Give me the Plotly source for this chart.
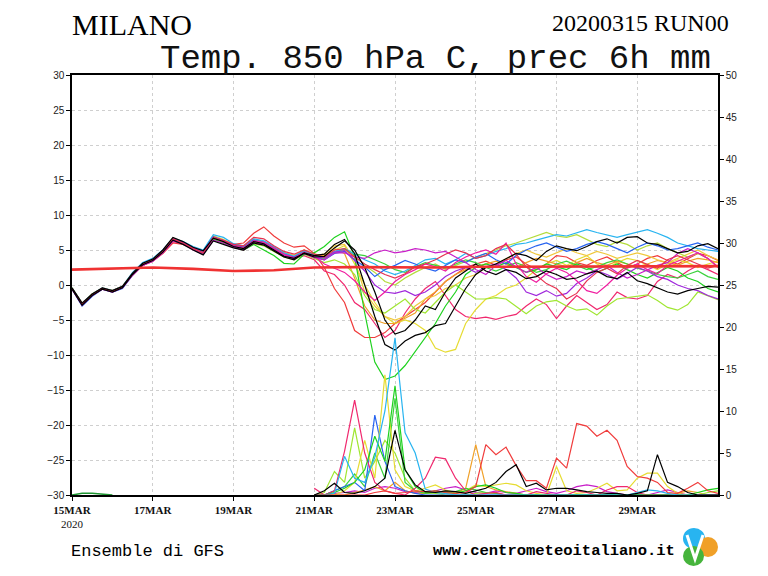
import plotly.graph_objects as go

# ---------------- DATA ----------------
# time axis: 6-hourly steps from 15MAR2020 00Z (days since start)
n_steps = 65
time_days = [i * 0.25 for i in range(n_steps)]
tick_days = [0, 2, 4, 6, 8, 10, 12, 14]
tick_labels = ["<b>15MAR</b><br>2020", "<b>17MAR</b>", "<b>19MAR</b>", "<b>21MAR</b>",
               "<b>23MAR</b>", "<b>25MAR</b>", "<b>27MAR</b>", "<b>29MAR</b>"]

# 850 hPa temperature of ensemble members (C), 4 values per day, 15MAR..30MAR + 31MAR00
t_black1 = [-0.6,-2.9,-1.5,-0.6, -1.0,-0.4,1.5,2.9, 3.5,4.7,6.4,5.8, 5.0,4.3,6.3,5.8,
            5.3,5.0,6.0,5.7, 4.9,4.0,3.6,4.6, 4.2,4.4,5.8,6.5, 4.5,0.0,-4.5,-8.5,
            -9.3,-8.0,-7.2,-6.8, -5.8,-5.5,-3.0,-0.5, 1.5,2.5,3.0,3.8, 4.5,4.2,3.5,4.8,
            5.6,5.2,4.9,5.5, 6.2,6.6,6.0,6.8, 6.9,6.0,5.8,5.2, 4.6,4.8,5.6,5.9, 5.2]
t_black2 = [-0.4,-2.6,-1.3,-0.4, -0.8,-0.2,1.7,3.1, 3.7,5.0,6.8,6.2, 5.4,4.9,6.7,6.2,
            5.5,5.2,6.2,5.9, 5.0,4.1,3.8,4.5, 4.0,4.1,5.3,6.3, 5.0,2.5,-1.0,-5.0,
            -7.0,-6.5,-5.0,-3.0, -3.5,-1.0,1.0,2.0, 3.0,2.0,1.5,2.2, 1.8,0.9,1.2,2.0,
            1.5,0.8,1.0,1.6, 2.0,1.2,0.9,1.8, 0.6,0.2,-0.4,-1.0, -1.3,-0.8,-0.5,-0.2, -0.3]
t_green = [-0.5,-2.8,-1.4,-0.5, -0.9,-0.3,1.6,3.0, 3.6,4.9,6.5,6.0, 5.1,4.5,6.5,5.9,
           5.4,5.0,5.8,5.0, 4.2,3.1,3.0,4.4, 4.6,5.5,6.8,7.6, 4.0,-4.0,-11.0,-13.5,
           -13.0,-11.5,-9.5,-7.5, -5.5,-3.0,-1.0,1.5, 2.5,3.0,2.6,3.2, 2.5,1.8,2.2,3.0,
           2.6,2.2,3.0,2.5, 1.8,2.4,3.0,2.2, 1.5,1.0,1.8,2.5, 2.0,1.0,0.5,-0.5, -1.0]
t_red = [-0.5,-2.6,-1.3,-0.5, -0.8,-0.2,1.5,2.8, 3.4,4.5,6.0,5.8, 5.2,4.8,6.6,6.3,
         5.8,6.0,7.4,8.3, 7.0,6.0,5.4,5.6, 4.5,2.5,-0.5,-2.5, -6.5,-7.5,-7.5,-6.8,
         -5.5,-4.5,-3.5,-2.5, -1.0,0.5,1.5,2.5, 3.0,3.4,2.8,3.6, 4.0,3.0,2.2,3.0,
         4.2,4.0,3.2,2.8, 3.5,4.0,3.2,2.5, 3.0,3.8,4.2,3.5, 3.0,3.8,4.5,4.2, 3.5]
t_crimson = [-0.5,-2.7,-1.4,-0.6, -0.9,-0.4,1.4,2.8, 3.4,4.6,6.2,5.9, 5.2,4.7,6.8,6.2,
             5.6,5.2,6.1,5.8, 5.1,4.3,3.8,4.2, 3.6,2.0,1.5,0.0, -2.5,-3.5,-5.5,-7.5,
             -6.5,-4.0,-2.0,-0.5, 0.5,-1.5,-3.5,-4.5, -4.8,-4.6,-4.9,-4.5, -4.2,-3.0,-2.0,-2.8,
             -4.8,-3.0,-1.5,-2.5, -3.5,-2.8,-1.0,-1.8, -2.0,-1.5,0.5,1.5, 1.0,2.0,2.8,2.2, 1.5]
t_yellow = [-0.4,-2.6,-1.3,-0.5, -0.9,-0.3,1.7,3.1, 3.7,4.9,6.7,6.1, 5.3,4.7,7.0,6.5,
            5.7,5.4,6.5,6.1, 5.4,4.6,4.2,4.9, 4.3,4.0,5.0,5.6, 3.0,0.0,-2.5,-4.5,
            -5.5,-5.0,-5.5,-6.5, -9.0,-9.6,-9.2,-5.5, -3.5,-2.0,-1.5,-0.5, 0.0,1.0,2.2,3.0,
            3.5,2.8,3.6,4.2, 3.0,2.4,3.2,3.8, 3.5,2.8,2.2,3.0, 3.6,3.2,2.5,3.0, 3.4]
t_magenta = [-0.6,-2.9,-1.5,-0.6, -1.0,-0.4,1.4,2.8, 3.4,4.6,6.3,5.9, 5.0,4.4,6.4,6.0,
             5.4,5.0,6.0,5.8, 5.0,4.2,3.7,4.5, 3.9,3.6,4.6,4.6, 4.0,3.8,4.6,5.0,
             4.6,4.8,5.2,5.0, 4.6,4.8,4.0,3.2, 2.2,1.5,2.8,3.5, 2.6,1.8,2.5,1.5,
             0.8,1.2,2.0,1.6, 2.2,2.8,1.8,1.0, 1.5,2.2,2.8,3.2, 4.5,5.2,4.6,3.8, 2.5]
t_purple = [-0.5,-2.8,-1.4,-0.5, -0.9,-0.3,1.6,3.0, 3.6,4.8,6.5,6.0, 5.2,4.6,6.8,6.3,
            5.6,5.3,6.3,6.0, 5.2,4.3,3.9,4.6, 4.0,3.9,4.7,4.9, 3.5,2.0,0.0,-1.0,
            -1.2,-0.8,-1.5,-1.0, 0.0,1.2,2.0,2.5, 1.8,2.6,3.0,2.2, 1.0,-1.0,-1.5,-0.8,
            -1.6,-1.2,0.2,1.0, 2.0,1.5,0.8,1.6, 2.5,2.0,1.2,0.8, 0.0,-0.5,-0.8,-1.5, -2.0]
t_cyan = [-0.4,-2.6,-1.3,-0.4, -0.8,-0.2,1.8,3.2, 3.8,5.0,6.7,6.2, 5.5,5.0,7.2,6.8,
          5.9,5.6,6.6,6.3, 5.5,4.6,4.1,4.9, 4.3,3.9,4.8,5.2, 4.4,3.6,3.0,2.0,
          1.5,2.0,2.8,3.6, 3.8,3.0,3.6,4.5, 3.8,4.2,4.8,5.2, 5.8,6.0,6.4,6.8,
          7.2,7.0,7.5,7.9, 7.5,7.1,6.8,7.2, 7.6,7.9,7.4,6.8, 6.0,5.6,5.2,5.0, 4.8]
t_blue = [-0.6,-3.0,-1.6,-0.6, -1.0,-0.5,1.4,2.9, 3.5,4.8,6.5,6.1, 5.3,4.8,6.9,6.4,
          5.7,5.4,6.4,6.1, 5.3,4.4,4.0,4.7, 4.0,3.6,4.5,4.8, 3.6,2.6,1.2,2.2,
          2.8,3.5,3.0,2.4, 2.0,2.8,3.6,3.2, 4.0,4.5,3.6,3.0, 4.2,5.0,5.6,6.0,
          5.4,4.8,5.2,5.8, 6.2,5.8,5.2,4.6, 5.4,6.0,5.6,5.0, 5.2,5.6,6.0,5.4, 5.0]
t_lightgreen = [-0.5,-2.7,-1.4,-0.5, -0.9,-0.3,1.6,3.0, 3.6,4.8,6.4,6.0, 5.1,4.5,6.6,6.1,
                5.4,5.0,5.9,5.6, 4.8,4.0,3.6,4.4, 3.8,3.2,3.6,3.0, 1.5,-1.5,-3.5,-4.0,
                -3.0,-2.0,-3.5,-4.0, -2.5,-1.0,0.0,-1.0, -2.0,-2.0,-1.8,-2.0, -3.0,-4.1,-3.0,-2.4,
                -2.2,-3.0,-3.6,-3.4, -4.3,-3.0,-2.0,-1.8, -1.7,-1.4,-2.2,-3.2, -3.6,-2.8,-1.0,-1.6, -2.1]
t_orange = [-0.5,-2.7,-1.3,-0.5, -0.8,-0.2,1.7,3.0, 3.6,4.8,6.6,6.0, 5.2,4.6,6.9,6.4,
            5.6,5.3,6.5,6.2, 5.4,4.6,4.2,5.0, 4.4,4.2,5.2,4.5, 1.0,-3.0,-5.0,-5.5,
            -5.5,-4.8,-4.0,-2.0, -1.0,0.5,1.5,2.2, 2.6,3.0,3.4,3.0, 2.5,3.2,3.8,3.4,
            3.0,2.6,3.2,3.8, 3.2,2.8,3.4,3.0, 2.6,3.0,3.5,3.2, 2.8,3.4,3.8,3.6, 3.2]
t_gold = [-0.4,-2.6,-1.3,-0.4, -0.8,-0.2,1.7,3.1, 3.7,4.9,6.6,6.1, 5.3,4.8,7.0,6.5,
          5.8,5.5,6.5,6.2, 5.4,4.6,4.2,4.9, 4.2,4.4,5.6,5.8, 3.5,-1.0,-3.0,-4.5,
          -5.0,-4.5,-3.0,-2.0, -1.5,-0.5,0.0,1.0, 1.5,2.5,3.0,3.8, 4.5,5.0,4.4,4.0,
          4.6,5.2,4.6,4.2, 4.8,4.4,3.8,4.2, 4.6,4.2,3.6,3.2, 3.8,4.4,5.0,4.2, 3.6]
t_yellowgreen = [-0.5,-2.8,-1.4,-0.5, -0.9,-0.3,1.5,2.9, 3.5,4.7,6.4,5.9, 5.2,4.6,6.7,6.2,
                 5.5,5.2,6.2,6.0, 5.2,4.3,3.8,4.6, 4.0,3.7,4.6,5.0, 4.2,2.8,1.8,0.5,
                 0.0,1.0,1.8,2.5, 3.0,2.2,2.8,3.4, 4.0,4.5,5.0,5.6, 6.0,6.5,7.0,7.5,
                 7.0,6.8,7.2,6.5, 5.8,5.5,6.2,5.8, 5.0,5.6,6.0,5.2, 4.6,4.0,4.5,3.8, 2.5]
t_red2 = [-0.5,-2.7,-1.4,-0.5, -0.9,-0.3,1.6,3.0, 3.6,4.8,6.6,6.0, 5.2,4.6,6.8,6.4,
          5.8,5.6,6.8,6.6, 5.6,4.8,4.4,5.0, 4.4,4.0,5.0,5.2, 4.0,3.0,2.2,1.5,
          1.0,1.6,2.6,3.0, 3.6,4.4,5.0,4.6, 3.8,4.2,5.2,5.8, 4.4,2.6,1.4,0.2,
          -0.5,-2.0,-1.2,0.6, 1.8,2.4,1.6,2.8, 3.5,3.0,2.4,3.6, 4.2,3.6,3.0,2.4, 2.8]
t_lime = [-0.5,-2.7,-1.4,-0.5, -0.9,-0.3,1.6,3.0, 3.6,4.8,6.6,6.0, 5.2,4.6,6.8,6.3,
          5.6,5.3,6.3,6.1, 5.3,4.4,3.9,4.7, 4.1,3.8,4.6,5.2, 4.4,4.2,3.6,3.0,
          2.2,1.8,2.6,3.2, 2.8,2.4,3.0,3.6, 3.2,2.5,2.0,2.6, 3.2,2.6,1.8,2.2,
          3.0,3.4,2.8,2.2, 2.6,3.2,3.6,3.0, 2.4,2.0,1.5,1.2, 1.0,1.5,2.0,1.2, 0.8]
t_hotpink = [-0.5,-2.7,-1.4,-0.5, -0.9,-0.3,1.6,3.0, 3.6,4.8,6.6,6.0, 5.2,4.6,6.8,6.3,
             5.6,5.3,6.3,6.1, 5.3,4.4,3.9,4.7, 4.1,3.0,2.4,1.8, 0.6,-1.0,-2.2,-1.0,
             0.5,1.5,2.2,3.0, 2.6,2.0,3.2,4.0, 4.6,5.0,4.4,6.0, 3.0,1.2,0.4,1.6,
             2.4,1.8,0.6,-0.8, -1.2,0.0,1.4,2.4, 3.0,2.2,1.6,2.8, 3.4,4.0,4.6,3.8, 2.6]

# climatological 850 hPa temperature, daily 15MAR..31MAR
clim_days = list(range(17))
clim_temp = [2.2, 2.35, 2.5, 2.3, 2.0, 2.1, 2.5, 2.55, 2.5, 2.5, 2.6, 2.6, 2.6, 2.6, 2.7, 2.7, 2.7]

# 6h precipitation (mm) of members, from 21MAR 00Z (step 24) to 31MAR 00Z
p_start = 24
p_crimson = [0.8,0.0,0.5,5.2, 11.3,5.0,1.5,0.5, 0.2,0.0,0.8,2.0, 4.5,4.3,2.0,0.5,
             0.0,0.2,0.3,0.0, 0.0,0.0,0.4,0.2, 0.0,0.0,0.5,0.3, 0.0,0.6,1.0,1.0,
             0.3,0.0,0.0,0.0, 0.0,0.0,0.0,0.0, 0.0]
p_yellow = [0.0,0.0,0.0,0.5, 1.5,6.5,2.0,14.3, 3.0,1.0,0.5,0.8, 1.2,0.6,0.3,0.5,
            1.2,1.0,1.2,1.4, 1.2,0.5,0.2,0.0, 3.4,0.5,0.2,0.3, 0.8,1.4,0.5,0.6,
            2.0,2.6,2.6,1.0, 0.2,0.0,0.0,0.0, 0.0]
p_green = [0.0,0.0,0.3,0.8, 1.5,3.0,7.0,4.0, 13.0,3.0,1.0,0.3, 0.5,0.3,0.2,0.5,
           1.0,1.2,0.8,0.3, 0.2,0.0,0.0,0.0, 0.0,0.0,0.0,0.0, 0.0,0.0,0.0,0.0,
           0.0,0.0,0.0,0.0, 0.0,0.0,0.3,0.6, 0.8]
p_lightgreen = [0.0,0.3,2.8,1.5, 8.0,2.0,4.0,6.5, 5.0,2.0,0.5,0.3, 0.2,0.0,0.0,0.0,
                0.2,0.3,0.2,0.0, 0.0,0.0,0.0,0.0, 0.0,0.0,0.0,0.0, 0.0,0.0,0.0,0.0,
                0.0,0.0,0.0,0.0, 0.0,0.0,0.0,0.3, 0.5]
p_lime = [0.0,0.0,0.5,1.0, 2.5,1.0,5.0,2.0, 11.5,1.5,0.5,0.2, 0.3,0.2,0.4,0.8,
          0.6,0.3,0.2,0.0, 0.0,0.0,0.0,0.0, 0.0,0.0,0.0,0.0, 0.0,0.0,0.0,0.0,
          0.0,0.0,0.0,0.0, 0.0,0.0,0.0,0.0, 0.0]
p_cyan = [0.0,0.0,0.2,4.6, 2.0,1.5,4.5,10.0, 18.7,7.4,5.0,0.7, 0.3,0.2,0.0,0.0,
          0.0,0.0,0.0,0.0, 0.0,0.0,0.0,0.0, 0.0,0.0,0.0,0.0, 0.0,0.0,0.0,0.0,
          0.3,0.6,0.5,0.2, 0.0,0.0,0.0,0.0, 0.0]
p_blue = [0.0,0.0,0.5,1.0, 1.5,0.5,9.5,4.0, 1.0,0.5,0.2,0.0, 0.0,0.0,0.0,0.0,
          0.0,0.0,0.0,0.0, 0.0,0.0,0.0,0.0, 0.0,0.0,0.0,0.0, 0.0,0.0,0.0,0.0,
          0.0,0.0,0.0,0.0, 0.0,0.0,0.0,0.0, 0.0]
p_black = [0.0,0.5,1.4,0.3, 0.2,0.5,1.0,2.0, 7.7,3.0,1.2,0.4, 0.3,0.5,0.4,0.2,
           0.5,0.8,1.5,2.8, 3.6,1.0,1.4,0.6, 0.8,0.8,0.6,0.4, 0.3,0.2,0.2,0.0,
           0.2,0.5,4.8,1.5, 1.0,0.3,0.0,0.0, 0.0]
p_red = [0.0,0.0,0.0,0.0, 0.0,0.0,0.3,0.5, 0.2,0.3,0.5,0.4, 0.5,0.3,0.2,0.3,
         1.0,6.0,4.8,5.7, 3.5,1.7,1.7,0.8, 4.4,3.2,8.5,8.2, 7.0,7.7,6.5,3.4,
         2.2,2.0,1.5,0.3, 0.2,0.8,1.5,0.5, 0.2]
p_orange = [0.0,0.0,0.0,0.0, 0.3,0.6,1.0,0.5, 1.5,0.5,0.2,0.2, 0.3,0.5,0.2,0.8,
            6.0,1.0,0.6,0.4, 0.2,0.0,0.0,0.0, 0.0,0.0,0.0,0.0, 0.0,0.0,0.0,0.0,
            0.0,0.0,0.0,0.0, 0.2,0.5,0.3,0.0, 0.0]
p_magenta = [0.0,0.0,0.2,0.3, 0.5,0.3,0.8,1.0, 0.8,0.4,0.3,0.2, 0.5,0.8,1.0,0.6,
             0.3,0.2,0.5,0.3, 0.2,0.5,0.8,0.4, 0.2,0.5,1.0,1.2, 1.0,0.4,0.2,0.0,
             0.0,0.0,0.3,0.6, 0.3,0.0,0.0,0.0, 0.0]
p_green_early = [0.0, 0.2, 0.2, 0.1, 0.0]

# ---------------- STYLE ----------------
temp_members = [
    (t_red, "#f03c3c"), (t_crimson, "#f0286e"), (t_yellow, "#e6dc32"), (t_orange, "#f0a028"),
    (t_gold, "#f0c83c"), (t_lightgreen, "#a0e632"), (t_yellowgreen, "#b4dc3c"), (t_lime, "#3cd23c"),
    (t_green, "#1ed21e"), (t_cyan, "#28b4f0"), (t_blue, "#2864f0"), (t_purple, "#a028dc"),
    (t_magenta, "#c81ec8"), (t_hotpink, "#f01ea0"), (t_red2, "#e63250"),
    (t_black2, "#000000"), (t_black1, "#000000"),
]
precip_members = [
    (p_magenta, "#c81ec8"), (p_orange, "#f0a028"), (p_lightgreen, "#a0e632"), (p_lime, "#3cd23c"),
    (p_blue, "#2864f0"), (p_yellow, "#e6dc32"), (p_crimson, "#f0286e"), (p_green, "#1ed21e"),
    (p_cyan, "#28b4f0"), (p_red, "#f03c3c"), (p_black, "#000000"),
]

fig = go.Figure()
for vals, col in temp_members:
    fig.add_trace(go.Scatter(x=time_days[:len(vals)], y=vals, mode="lines",
                             line=dict(color=col, width=1.2), yaxis="y", hoverinfo="skip"))
fig.add_trace(go.Scatter(x=clim_days, y=clim_temp, mode="lines",
                         line=dict(color="#f03232", width=2.6), yaxis="y", hoverinfo="skip"))
p_time = time_days[p_start:]
for vals, col in precip_members:
    fig.add_trace(go.Scatter(x=p_time[:len(vals)], y=vals, mode="lines",
                             line=dict(color=col, width=1.2), yaxis="y2", hoverinfo="skip"))
fig.add_trace(go.Scatter(x=time_days[:len(p_green_early)], y=p_green_early, mode="lines",
                         line=dict(color="#1e9632", width=1.5), yaxis="y2", hoverinfo="skip"))

# page body has an 8px margin: the figure is placed 8px in from the top-left corner
OFF = 8
W, H = 768 - OFF, 576 - OFF
L, R, T, B = 72 - OFF, 718 - OFF, 75 - OFF, 495 - OFF


def px(x):
    return (x - OFF - L) / (R - L)


def py(y):
    return (B - (y - OFF)) / (B - T)


tickfont = dict(family="Liberation Sans", size=10, color="#222")
fig.update_layout(
    width=W, height=H, showlegend=False,
    paper_bgcolor="white", plot_bgcolor="white",
    margin=dict(l=L, r=W - R, t=T, b=H - B, pad=0),
    xaxis=dict(range=[0, 16], tickvals=tick_days, ticktext=tick_labels,
               tickfont=dict(family="Liberation Serif", size=11, color="#111"),
               ticks="outside", ticklen=4, tickcolor="#000",
               showgrid=True, gridcolor="#cfcfcf", griddash="dot", gridwidth=1,
               showline=True, linecolor="#000", linewidth=1.5, mirror=True, zeroline=False),
    yaxis=dict(range=[-30, 30], tickvals=list(range(-30, 31, 5)), tickfont=tickfont,
               ticks="outside", ticklen=4, tickcolor="#000",
               showgrid=True, gridcolor="#cfcfcf", griddash="dot", gridwidth=1,
               showline=True, linecolor="#000", linewidth=1.5, mirror=True, zeroline=False),
    yaxis2=dict(range=[0, 50], tickvals=list(range(0, 51, 5)), tickfont=tickfont,
                overlaying="y", side="right", showgrid=False, zeroline=False,
                ticks="outside", ticklen=4, tickcolor="#000",
                showline=True, linecolor="#000", linewidth=1.5),
)

serif = "Liberation Serif"
mono = "Liberation Mono"
ann = [
    dict(text="MILANO", x=px(70), y=py(25), xanchor="left", yanchor="middle",
         font=dict(family=serif, size=30, color="#000")),
    dict(text="20200315 RUN00", x=px(731), y=py(23), xanchor="right", yanchor="middle",
         font=dict(family=serif, size=24, color="#000")),
    dict(text="Temp. 850 hPa C, prec 6h mm", x=px(436), y=py(59), xanchor="center", yanchor="middle",
         font=dict(family=mono, size=34, color="#111")),
    dict(text="Ensemble di GFS", x=px(69), y=py(551), xanchor="left", yanchor="middle",
         font=dict(family=mono, size=17, color="#000")),
    dict(text="www.centrometeoitaliano.it", x=px(677), y=py(551), xanchor="right", yanchor="middle",
         font=dict(family=mono, size=15.5, color="#000", weight="bold")),
]
for a in ann:
    a.update(xref="paper", yref="paper", showarrow=False)
fig.update_layout(annotations=ann)

# small logo
lx, ly = px(700), py(547)
logo = [
    dict(type="circle", x0=-17, x1=5, y0=-2, y1=19, fillcolor="#28b4f0"),
    dict(type="circle", x0=-2, x1=18, y0=-10, y1=10, fillcolor="#f0a028"),
    dict(type="circle", x0=-17, x1=4, y0=-19, y1=1, fillcolor="#46b43c"),
]
shapes = []
for s in logo:
    s.update(xref="paper", yref="paper", xsizemode="pixel", ysizemode="pixel",
             xanchor=lx, yanchor=ly, line=dict(width=0), layer="above")
    shapes.append(s)
shapes.append(dict(type="path", xref="paper", yref="paper", xsizemode="pixel", ysizemode="pixel",
                   xanchor=lx, yanchor=ly, path="M -13,12 L -5,-12 L 3,12",
                   line=dict(color="white", width=3), layer="above"))
fig.update_layout(shapes=shapes)

fig.write_html("out.html")
